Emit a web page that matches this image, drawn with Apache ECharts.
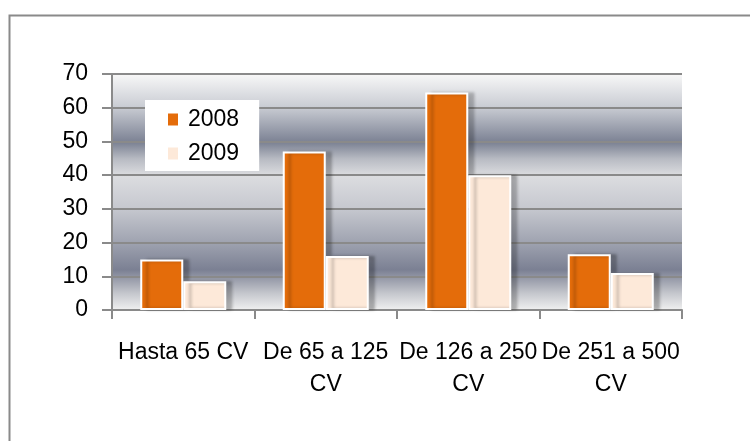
<!DOCTYPE html>
<html>
<head>
<meta charset="utf-8">
<script src="https://cdn.jsdelivr.net/npm/echarts@6/dist/echarts.min.js"></script>
<style>
  html, body { margin: 0; padding: 0; background: #fff; }
  #main { width: 750px; height: 441px; }
</style>
</head>
<body>
<div id="main"></div>
<script>
// datos del gráfico
var categorias = ['Hasta 65 CV', 'De 65 a 125\nCV', 'De 126 a 250\nCV', 'De 251 a 500\nCV'];
var serie2008 = [15, 47, 64.5, 16.5];
var serie2009 = [8.5, 16, 40, 11];
var ticksY = [0, 10, 20, 30, 40, 50, 60, 70];

var fuente = '"Liberation Sans", Arial, sans-serif';

var myChart = echarts.init(document.getElementById('main'));

// fondo degradado del área de trazado
var fondo = new echarts.graphic.LinearGradient(0, 0, 0, 1, [
    { offset: 0, color: '#f8f8f8' },
    { offset: 0.14, color: '#c9ccd3' },
    { offset: 0.29, color: '#7b8193' },
    { offset: 0.36, color: '#b8bbc3' },
    { offset: 0.43, color: '#dcdde0' },
    { offset: 0.57, color: '#c6c8cf' },
    { offset: 0.71, color: '#a0a4b1' },
    { offset: 0.83, color: '#7b8093' },
    { offset: 0.93, color: '#c5c7cd' },
    { offset: 1, color: '#f0f0f0' }
]);

var estiloBarra = function (color) {
    return {
        color: color,
        borderColor: '#ffffff',
        borderWidth: 2,
        shadowColor: 'rgba(0,0,0,0.25)',
        shadowBlur: 3,
        shadowOffsetX: 6,
        shadowOffsetY: 0
    };
};

myChart.setOption({
    animation: false,
    graphic: [{
        type: 'rect',
        left: 7,
        top: 13,
        shape: { width: 800, height: 500 },
        style: { fill: 'none', stroke: '#8a8a8a', lineWidth: 2 },
        silent: true
    }],
    grid: {
        left: 112,
        right: 68,
        top: 74,
        bottom: 131,
        show: true,
        backgroundColor: fondo,
        borderWidth: 0
    },
    legend: {
        orient: 'vertical',
        left: 145,
        top: 100,
        backgroundColor: '#ffffff',
        padding: [8, 20, 6, 23],
        itemGap: 11,
        itemWidth: 10,
        itemHeight: 12,
        icon: 'rect',
        itemStyle: { borderWidth: 0, shadowBlur: 0, shadowOffsetX: 0 },
        textStyle: { fontFamily: fuente, fontSize: 23, color: '#000', padding: [0, 0, 0, 5] },
        data: ['2008', '2009']
    },
    xAxis: {
        type: 'category',
        data: categorias,
        axisLine: { lineStyle: { color: '#8a8a8a', width: 2 } },
        axisTick: { show: true, length: 9, lineStyle: { color: '#8a8a8a', width: 2 } },
        axisLabel: {
            interval: 0,
            margin: 27,
            color: '#000',
            fontFamily: fuente,
            fontSize: 23,
            lineHeight: 32
        }
    },
    yAxis: {
        type: 'value',
        min: ticksY[0],
        max: ticksY[ticksY.length - 1],
        interval: 10,
        axisLine: { show: true, lineStyle: { color: '#8a8a8a', width: 2 } },
        axisTick: { show: true, length: 10, lineStyle: { color: '#8a8a8a', width: 2 } },
        splitLine: { show: true, lineStyle: { color: '#8a8a8a', width: 2 } },
        axisLabel: {
            margin: 24,
            color: '#000',
            fontFamily: fuente,
            fontSize: 23
        }
    },
    series: [{
        name: '2008',
        type: 'bar',
        barWidth: 43,
        barGap: '0%',
        data: serie2008,
        itemStyle: estiloBarra('#e46c0a')
    }, {
        name: '2009',
        type: 'bar',
        barWidth: 43,
        data: serie2009,
        itemStyle: estiloBarra('#fde9d9')
    }]
});
</script>
</body>
</html>
